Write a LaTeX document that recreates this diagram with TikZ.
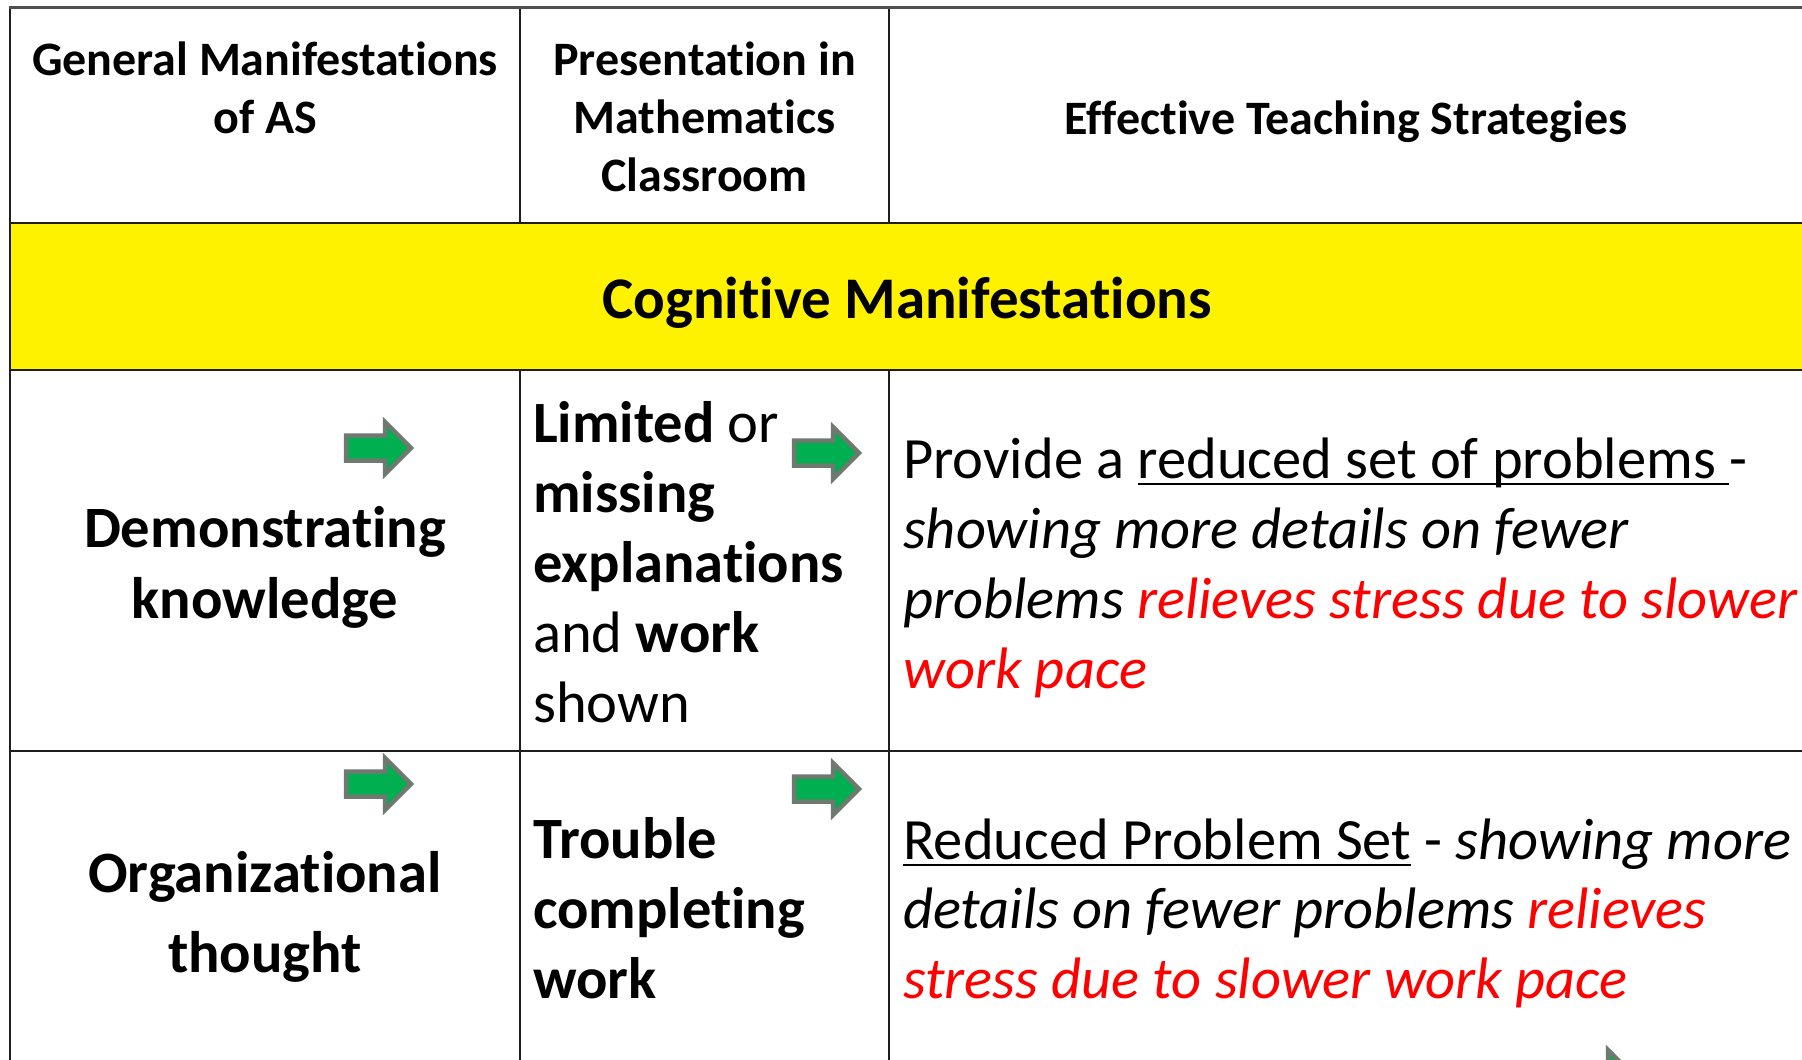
\documentclass[tikz,border=0pt]{standalone}
\usepackage{fontspec}
\setmainfont{Carlito}[Ligatures={NoCommon,NoRequired,NoContextual}]
\newsavebox{\mybox}
\newcommand{\myul}[1]{\sbox{\mybox}{#1}\rlap{\rule[-7.3pt]{\wd\mybox}{2.6pt}}\usebox{\mybox}}
\definecolor{linecol}{RGB}{30,30,30}
\definecolor{topcol}{RGB}{80,80,80}
\definecolor{arrowline}{RGB}{110,122,112}
\definecolor{arrowfill}{RGB}{0,176,80}
\tikzset{
  grid/.style={line width=1.8pt, draw=linecol},
  topline/.style={line width=3pt, draw=topcol},
  hdr/.style={font=\fontsize{48}{58}\selectfont\bfseries, inner sep=0pt, anchor=base},
  band/.style={font=\fontsize{59}{70}\selectfont\bfseries, inner sep=0pt, anchor=base},
  bodyc/.style={font=\fontsize{58.6}{70}\selectfont\bfseries, inner sep=0pt, anchor=base},
  bodyl/.style={font=\fontsize{58.5}{70}\selectfont, inner sep=0pt, anchor=base west},
  garrow/.pic={
    \draw[line width=4.5pt, draw=arrowline, fill=arrowfill, line join=miter]
      (2.2,17.5) -- (41,17.5) -- (41,4) -- (67,30) -- (41,56) -- (41,42.5) -- (2.2,42.5) -- cycle;
  }
}
\begin{document}
\begin{tikzpicture}[x=1pt,y=-1pt]
\useasboundingbox (0,0) rectangle (1802,1060);
\clip (0,0) rectangle (1802,1060);
\fill[white] (0,0) rectangle (1802,1060);
% yellow band
\fill[yellow] (10,223) rectangle (1802,370);
% grid
\draw[grid] (10,7.5) -- (10,1060);
\draw[grid] (520,7.5) -- (520,223);
\draw[grid] (889,7.5) -- (889,223);
\draw[grid] (520,370) -- (520,1060);
\draw[grid] (889,370) -- (889,1060);
\draw[grid] (10,223) -- (1802,223);
\draw[grid] (10,370) -- (1802,370);
\draw[grid] (10,751) -- (1802,751);
\draw[topline] (8.5,7.5) -- (1802,7.5);
% header
\node[hdr] (h1a) at (265,75.5) {General Manifestations};
\node[hdr] (h1b) at (265,133.5) {of AS};
\node[hdr] (h2a) at (704.5,75.5) {Presentation in};
\node[hdr] (h2b) at (704.5,133.5) {Mathematics};
\node[hdr] (h2c) at (704.5,191.5) {Classroom};
\node[hdr] (h3) at (1346,134.5) {Effective Teaching Strategies};
% band
\node[band] (cog) at (907,318) {Cognitive Manifestations};
% row 1
\node[bodyc] (d1) at (265,547) {Demonstrating};
\node[bodyc] (d2) at (265,618) {knowledge};
\node[bodyl] (l1) at (533,442) {\textbf{Limited} or};
\node[bodyl] (l2) at (533,512) {\textbf{missing}};
\node[bodyl] (l3) at (533,582) {\textbf{explanations}};
\node[bodyl] (l4) at (533,652) {and \textbf{work}};
\node[bodyl] (l5) at (533,722) {shown};
\node[bodyl] (p1) at (903,478) {Provide a \myul{reduced set of problems\hspace{0.23em}}-};
\node[bodyl] (p2) at (903,548) {\textit{showing more details on fewer}};
\node[bodyl] (p3) at (903,618) {\textit{problems \textcolor{red}{relieves stress due to slower}}};
\node[bodyl] (p4) at (903,688) {\textit{\textcolor{red}{work pace}}};
% row 2
\node[bodyc] (o1) at (265,892) {Organizational};
\node[bodyc] (o2) at (265,972) {thought};
\node[bodyl] (t1) at (533,858) {\textbf{Trouble}};
\node[bodyl] (t2) at (533,928) {\textbf{completing}};
\node[bodyl] (t3) at (533,998) {\textbf{work}};
\node[bodyl] (r1) at (903,859) {\myul{Reduced Problem Set} - \textit{showing more}};
\node[bodyl] (r2) at (903,928) {\textit{details on fewer problems \textcolor{red}{relieves}}};
\node[bodyl] (r3) at (903,998) {\textit{\textcolor{red}{stress due to slower work pace}}};
% arrows
\pic at (344,418) {garrow};
\pic at (792,423) {garrow};
\pic at (344,754) {garrow};
\pic at (792,759) {garrow};
\pic at (1567,1046) {garrow};
\end{tikzpicture}
\end{document}
